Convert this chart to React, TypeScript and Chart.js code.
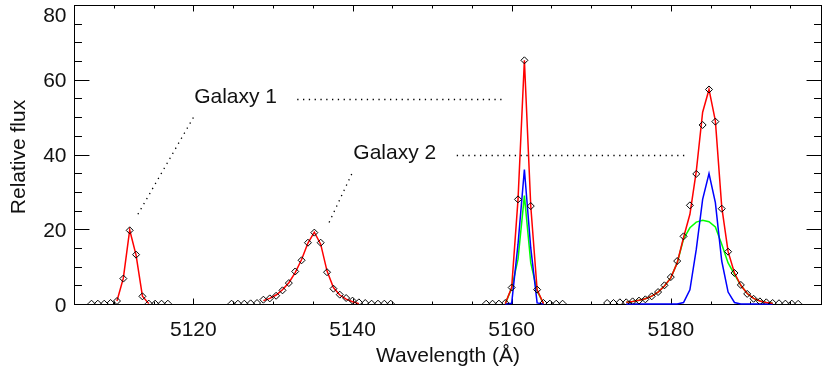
import React, { useEffect, useRef } from 'react';
import { Chart, registerables } from 'chart.js';

Chart.register(...registerables);

// ---------- observed data (diamonds) ----------
const obsWavelength1 = [5107.2, 5108.0, 5108.8, 5109.6, 5110.4, 5111.2, 5112.0, 5112.8, 5113.6, 5114.4, 5115.2, 5116.0, 5116.8];
const obsFlux1 = [0.08, 0.08, 0.08, 0.27, 0.8, 6.8, 19.7, 13.2, 2.05, 0.1, 0.08, 0.08, 0.08];

const obsWavelength2 = [5124.8, 5125.6, 5126.4, 5127.2, 5128.0, 5128.8, 5129.6, 5130.4, 5131.2, 5132.0, 5132.8, 5133.6, 5134.4, 5135.2, 5136.0, 5136.8, 5137.6, 5138.4, 5139.2, 5140.0, 5140.8, 5141.6, 5142.4, 5143.2, 5144.0, 5144.8];
const obsFlux2 = [0.08, 0.08, 0.08, 0.17, 0.26, 1.15, 1.5, 2.2, 3.65, 5.6, 8.7, 11.7, 16.4, 19.1, 16.4, 8.5, 4.1, 2.5, 1.6, 0.9, 0.44, 0.26, 0.08, 0.08, 0.08, 0.08];

const obsWavelength3 = [5156.8, 5157.6, 5158.4, 5159.2, 5160.0, 5160.8, 5161.6, 5162.4, 5163.2, 5164.0, 5164.8, 5165.6, 5166.4];
const obsFlux3 = [0.08, 0.08, 0.1, 0.27, 4.4, 28.0, 65.2, 26.2, 3.84, 0.27, 0.1, 0.08, 0.08];

const obsWavelength4 = [5172.0, 5172.8, 5173.6, 5174.4, 5175.2, 5176.0, 5176.8, 5177.6, 5178.4, 5179.2, 5180.0, 5180.8, 5181.6, 5182.4, 5183.2, 5184.0, 5184.8, 5185.6, 5186.4, 5187.2, 5188.0, 5188.8, 5189.6, 5190.4, 5191.2, 5192.0, 5192.8, 5193.6, 5194.4, 5195.2, 5196.0];
const obsFlux4 = [0.27, 0.27, 0.45, 0.45, 0.7, 0.9, 1.25, 2.05, 3.2, 5.0, 7.2, 11.5, 18.1, 26.4, 34.8, 47.9, 57.4, 48.8, 25.5, 14.0, 8.3, 5.1, 2.7, 1.4, 0.7, 0.45, 0.27, 0.2, 0.1, 0.1, 0.05];

// ---------- model fits ----------
const fitWavelength1 = [5110.4, 5111.2, 5112.0, 5112.8, 5113.6, 5114.4];
const fitTotal1 = [0.8, 6.9, 19.8, 13.1, 2.1, 0.1];

const fitWavelength2 = [5128.8, 5129.6, 5130.4, 5131.2, 5132.0, 5132.8, 5133.6, 5134.4, 5135.2, 5136.0, 5136.8, 5137.6, 5138.4, 5139.2, 5140.0, 5140.8];
const fitTotal2 = [0.9, 1.5, 2.4, 3.8, 5.7, 8.4, 11.9, 16.3, 19.2, 16.0, 8.8, 4.4, 2.4, 1.3, 0.6, 0.1];

const fitWavelength3 = [5159.2, 5160.0, 5160.8, 5161.6, 5162.4, 5163.2, 5164.0];
const fitTotal3 = [0.1, 4.4, 28.0, 65.2, 26.2, 3.8, 0.1];
const fitNarrow3 = [0, 0.2, 16.0, 36.0, 15.0, 0.3, 0];
const fitBroad3 = [0.1, 4.2, 12.0, 29.0, 11.0, 3.5, 0.1];

const fitWavelength4 = [5174.4, 5175.2, 5176.0, 5176.8, 5177.6, 5178.4, 5179.2, 5180.0, 5180.8, 5181.6, 5182.4, 5183.2, 5184.0, 5184.8, 5185.6, 5186.4, 5187.2, 5188.0, 5188.8, 5189.6, 5190.4, 5191.2, 5192.0, 5192.8];
const fitTotal4 = [0.5, 0.7, 1.0, 1.4, 2.1, 3.2, 4.8, 7.0, 11.0, 17.8, 24.0, 35.5, 51.3, 57.4, 49.0, 26.0, 14.0, 8.3, 5.0, 2.8, 1.5, 0.8, 0.4, 0.2];
const fitNarrow4 = [0, 0, 0, 0, 0, 0, 0, 0, 0, 0.4, 3.8, 14.6, 28.0, 34.9, 27.1, 11.5, 3.2, 0.4, 0, 0, 0, 0, 0, 0];
const fitBroad4 = [0.5, 0.7, 1.0, 1.4, 2.1, 3.2, 4.8, 7.0, 11.0, 17.4, 20.4, 21.9, 22.4, 22.0, 20.6, 16.0, 11.0, 7.9, 5.0, 2.8, 1.5, 0.8, 0.4, 0.2];

// ---------- axes ----------
const xMin = 5105;
const xMax = 5199;
const yMin = 0;
const yMax = 80;
const xTickLabels = [5120, 5140, 5160, 5180];
const yTickLabels = [0, 20, 40, 60, 80];
const xMinorStep = 5;
const yMinorStep = 5;
const xTitle = 'Wavelength (Å)';
const yTitle = 'Relative flux';

// ---------- annotations (data coordinates) ----------
const annotationTexts = ['Galaxy 1', 'Galaxy 2'];
const annotationTextX = [5120.1, 5140.1];
const annotationTextY = [53.7, 38.7];
const annotationHLine = [
  [5133.05, 5159.2, 54.95],
  [5153.1, 5181.8, 39.75],
];
const annotationDLine = [
  [5120.0, 49.9, 5113.0, 23.9],
  [5139.9, 34.8, 5137.05, 21.8],
];

const FONT = '21px "Liberation Sans", Arial, sans-serif';
const TEXT_COLOR = '#111';

const pts = (xs: number[], ys: number[]) => xs.map((x, i) => ({ x, y: ys[i] }));

const lineDs = (label: string, xs: number[], ys: number[], color: string) => ({
  type: 'line' as const,
  label,
  data: pts(xs, ys),
  borderColor: color,
  backgroundColor: color,
  borderWidth: 1.5,
  pointRadius: 0,
  tension: 0,
  fill: false,
  clip: false as const,
});

const framePlugin = {
  id: 'idlFrame',
  beforeDatasetsDraw(chart: any) {
    const { ctx, chartArea: a, scales } = chart;
    const xs = scales.x;
    const ys = scales.y;
    const L = a.left + 0.5;
    const R = a.right - 0.5;
    const T = a.top + 0.5;
    const B = a.bottom + 0.5;
    ctx.save();
    ctx.strokeStyle = '#000';
    ctx.lineWidth = 1;
    ctx.strokeRect(L, T, R - L, B - T);
    const plotH = B - T;
    const plotW = R - L;
    const xMaj = 0.02 * plotH;
    const yMaj = 0.02 * plotW;
    ctx.beginPath();
    for (let v = Math.ceil(xMin / xMinorStep) * xMinorStep; v <= xMax; v += xMinorStep) {
      const major = xTickLabels.includes(v);
      const len = major ? xMaj : xMaj / 2;
      const px = Math.round(xs.getPixelForValue(v)) + 0.5;
      ctx.moveTo(px, B);
      ctx.lineTo(px, B - len);
      ctx.moveTo(px, T);
      ctx.lineTo(px, T + len);
    }
    for (let v = yMin + yMinorStep; v < yMax; v += yMinorStep) {
      const major = yTickLabels.includes(v);
      const len = major ? yMaj : yMaj / 2;
      const py = Math.round(ys.getPixelForValue(v)) + 0.5;
      ctx.moveTo(L, py);
      ctx.lineTo(L + len, py);
      ctx.moveTo(R, py);
      ctx.lineTo(R - len, py);
    }
    ctx.stroke();

    ctx.fillStyle = TEXT_COLOR;
    ctx.font = FONT;
    ctx.textAlign = 'center';
    ctx.textBaseline = 'alphabetic';
    xTickLabels.forEach((v) => {
      ctx.fillText(String(v), xs.getPixelForValue(v), B + 31);
    });
    ctx.textAlign = 'right';
    yTickLabels.forEach((v) => {
      const py = Math.max(ys.getPixelForValue(v), a.top + 9);
      ctx.fillText(String(v), L - 8, py + 7.5);
    });
    ctx.textAlign = 'center';
    ctx.fillText(xTitle, (L + R) / 2, B + 57);
    ctx.save();
    ctx.translate(25, (T + B) / 2 + 2);
    ctx.rotate(-Math.PI / 2);
    ctx.fillText(yTitle, 0, 0);
    ctx.restore();
    ctx.restore();
  },
  afterDraw(chart: any) {
    const { ctx, scales } = chart;
    const xs = scales.x;
    const ys = scales.y;
    ctx.save();
    ctx.fillStyle = TEXT_COLOR;
    ctx.font = FONT;
    ctx.textAlign = 'left';
    ctx.textBaseline = 'alphabetic';
    annotationTexts.forEach((t, i) => {
      ctx.fillText(t, xs.getPixelForValue(annotationTextX[i]), ys.getPixelForValue(annotationTextY[i]));
    });
    ctx.strokeStyle = '#000';
    ctx.lineWidth = 1.3;
    ctx.setLineDash([1.3, 4.5]);
    ctx.beginPath();
    annotationHLine.forEach(([x0, x1, y]) => {
      const py = Math.round(ys.getPixelForValue(y)) + 0.5;
      ctx.moveTo(xs.getPixelForValue(x0), py);
      ctx.lineTo(xs.getPixelForValue(x1), py);
    });
    annotationDLine.forEach(([x0, y0, x1, y1]) => {
      ctx.moveTo(xs.getPixelForValue(x0), ys.getPixelForValue(y0));
      ctx.lineTo(xs.getPixelForValue(x1), ys.getPixelForValue(y1));
    });
    ctx.stroke();
    ctx.restore();
  },
};

export default function App() {
  const ref = useRef<HTMLCanvasElement | null>(null);
  useEffect(() => {
    if (!ref.current) return;
    const obs = [
      ...pts(obsWavelength1, obsFlux1),
      ...pts(obsWavelength2, obsFlux2),
      ...pts(obsWavelength3, obsFlux3),
      ...pts(obsWavelength4, obsFlux4),
    ];
    // Chart.js draws dataset 0 on top, so list top-most first.
    const chart = new Chart(ref.current, {
      type: 'scatter',
      data: {
        datasets: [
          {
            type: 'scatter' as const,
            label: 'Observed',
            data: obs,
            pointStyle: 'rectRot',
            pointRadius: 3.5,
            pointHoverRadius: 3.5,
            pointBorderWidth: 1,
            borderColor: '#000',
            pointBorderColor: '#000',
            pointBackgroundColor: 'rgba(0,0,0,0)',
            backgroundColor: 'rgba(0,0,0,0)',
            showLine: false,
            clip: 0,
          } as any,
          lineDs('Fit 1', fitWavelength1, fitTotal1, '#ff0000'),
          lineDs('Fit 2', fitWavelength2, fitTotal2, '#ff0000'),
          lineDs('Fit 3', fitWavelength3, fitTotal3, '#ff0000'),
          lineDs('Fit 4', fitWavelength4, fitTotal4, '#ff0000'),
          lineDs('Narrow 1', fitWavelength3, fitNarrow3, '#0000ff'),
          lineDs('Narrow 2', fitWavelength4, fitNarrow4, '#0000ff'),
          lineDs('Broad 1', fitWavelength3, fitBroad3, '#00ff00'),
          lineDs('Broad 2', fitWavelength4, fitBroad4, '#00ff00'),
        ],
      },
      options: {
        animation: false,
        responsive: false,
        events: [],
        layout: { padding: { left: 74, top: 5, right: 8, bottom: 64 } },
        plugins: { legend: { display: false }, tooltip: { enabled: false } },
        scales: {
          x: { type: 'linear', min: xMin, max: xMax, display: false },
          y: { type: 'linear', min: yMin, max: yMax, display: false },
        },
      },
      plugins: [framePlugin],
    });
    return () => chart.destroy();
  }, []);
  return (
    <div style={{ position: 'absolute', left: 0, top: 0, width: 830, height: 368, background: '#fff' }}>
      <canvas ref={ref} width={830} height={368} style={{ width: 830, height: 368 }} />
    </div>
  );
}
